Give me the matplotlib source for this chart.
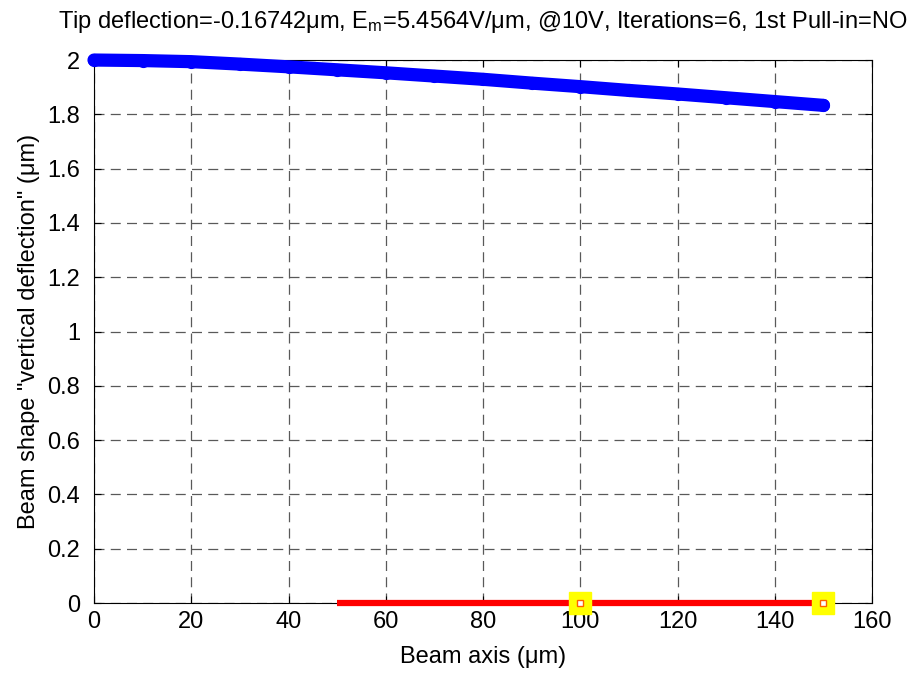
import numpy as np
import matplotlib
matplotlib.use("Agg")
import matplotlib.pyplot as plt

plt.rcParams['font.family'] = ['Liberation Sans', 'DejaVu Sans']
plt.rcParams['mathtext.fontset'] = 'custom'
plt.rcParams['mathtext.rm'] = 'Liberation Sans'
plt.rcParams['mathtext.it'] = 'Liberation Sans'

# --- data ---
beam_x = [0, 10, 20, 30, 40, 50, 60, 70, 80, 90, 100, 110, 120, 130, 140, 150]
beam_y = [2.000, 1.998, 1.994, 1.985, 1.975, 1.964, 1.953, 1.941, 1.929,
          1.915, 1.902, 1.888, 1.875, 1.861, 1.847, 1.833]
electrode_x = [50, 150]
electrode_y = [0, 0]
anchor_x = [100, 150]
anchor_y = [0, 0]

xticks = [0, 20, 40, 60, 80, 100, 120, 140, 160]
yticks = [0, 0.2, 0.4, 0.6, 0.8, 1, 1.2, 1.4, 1.6, 1.8, 2]
ytick_labels = ['0', '0.2', '0.4', '0.6', '0.8', '1', '1.2', '1.4', '1.6', '1.8', '2']

FS = 17

fig = plt.figure(figsize=(9.19, 6.73), dpi=100)
ax = fig.add_axes([0.1023, 0.104, 0.8466, 0.8068])

# beam: dense blue markers -> thick band
ax.plot(beam_x, beam_y, '-', color='blue', lw=9.5, solid_capstyle='round',
        zorder=3, clip_on=False)
ax.plot(beam_x, beam_y, 'o', color='blue', ms=9.5, mew=0, zorder=3, clip_on=False)

# electrode + anchors
ax.plot(electrode_x, electrode_y, '-', color='red', lw=4.5, zorder=4,
        clip_on=False, solid_capstyle='butt')
ax.plot(anchor_x, anchor_y, 's', color='yellow', ms=16, mec='yellow',
        zorder=5, clip_on=False)
ax.plot(anchor_x, anchor_y, 's', mfc='white', mec='#ff6000', ms=5, mew=1,
        zorder=6, clip_on=False)

ax.set_xlim(0, 160)
ax.set_ylim(0, 2)
ax.set_xticks(xticks)
ax.set_yticks(yticks)
ax.set_yticklabels(ytick_labels)
ax.tick_params(direction='in', top=True, right=True, length=5, labelsize=FS,
               width=0.8)
ax.tick_params(axis='x', pad=6)
ax.tick_params(axis='y', pad=10)
ax.grid(True, color='0.35', linestyle=(0, (8, 5)), linewidth=0.9)
ax.set_axisbelow(True)
for s in ax.spines.values():
    s.set_linewidth(0.8)

ax.set_title(r'Tip deflection=-0.16742μm, E$_{\rm m}$=5.4564V/μm, @10V, Iterations=6, 1st Pull-in=NO',
             fontsize=FS, pad=23)
ax.set_xlabel('Beam axis (μm)', fontsize=FS, labelpad=9)
ax.set_ylabel('Beam shape "vertical deflection" (μm)', fontsize=FS, labelpad=5)

fig.savefig('out.png', dpi=100)
